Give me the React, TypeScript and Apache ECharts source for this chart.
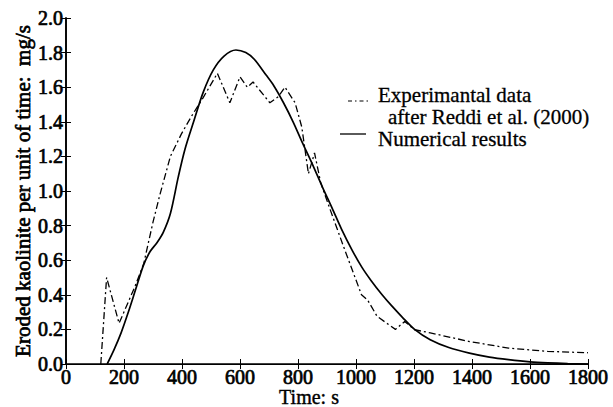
import React, { useEffect, useRef } from "react";
import * as echarts from "echarts";

const xTicks = [0, 200, 400, 600, 800, 1000, 1200, 1400, 1600, 1800];
const yTicks = [0, 0.2, 0.4, 0.6, 0.8, 1.0, 1.2, 1.4, 1.6, 1.8, 2.0];

const experimentalData: [number, number][] = [
  [120, 0], [140, 0.5], [183, 0.235], [237, 0.445], [268, 0.58], [300, 0.82],
  [324, 0.98], [360, 1.2], [398, 1.33], [432, 1.43], [473, 1.54], [522, 1.68],
  [565, 1.51], [600, 1.66], [625, 1.6], [645, 1.63], [703, 1.51], [732, 1.545],
  [755, 1.6], [790, 1.51], [813, 1.37], [836, 1.1], [857, 1.22], [878, 1.05],
  [905, 0.92], [959, 0.67], [1019, 0.4], [1040, 0.37], [1073, 0.275], [1136, 0.2],
  [1168, 0.246], [1202, 0.198], [1256, 0.18], [1391, 0.13], [1526, 0.092],
  [1661, 0.073], [1800, 0.065],
];

const numericalData: [number, number][] = [
  [142, 0], [165, 0.08], [190, 0.18], [215, 0.3], [240, 0.43], [267, 0.57],
  [290, 0.65], [313, 0.7], [335, 0.76], [360, 0.87], [387, 1.08], [410, 1.24],
  [440, 1.4], [473, 1.57], [508, 1.7], [545, 1.78], [586, 1.815], [620, 1.8],
  [650, 1.76], [690, 1.67], [716, 1.61], [750, 1.51], [783, 1.4], [815, 1.28],
  [851, 1.15], [885, 1.02], [918, 0.9], [950, 0.78], [986, 0.66], [1020, 0.56],
  [1053, 0.48], [1090, 0.4], [1121, 0.34], [1160, 0.27], [1202, 0.2], [1256, 0.14],
  [1320, 0.095], [1391, 0.063], [1460, 0.04], [1526, 0.025], [1600, 0.012],
  [1661, 0.006], [1730, 0.002], [1800, 0],
];

const seriesNames = ["Experimantal data", "after Reddi et al. (2000)", "Numerical results"];

const FONT = "'Liberation Serif', 'Times New Roman', serif";

export default function App() {
  const ref = useRef<HTMLDivElement>(null);
  useEffect(() => {
    if (!ref.current) return;
    const chart = echarts.init(ref.current, undefined, { renderer: "svg" });
    const axisCommon = {
      min: 0,
      splitLine: { show: false },
    };
    const heavy = { textBorderColor: "#000", textBorderWidth: 0.7 };
    chart.setOption({
      animation: false,
      backgroundColor: "#fff",
      grid: { left: 66, right: 25, top: 18, bottom: 43, containLabel: false, outerBoundsMode: "none" },
      xAxis: [
        {
          ...axisCommon,
          type: "value",
          max: 1800,
          interval: 200,
          position: "bottom",
          axisLine: { show: true, lineStyle: { color: "#000", width: 1.6 } },
          axisTick: { show: true, inside: true, length: 5, lineStyle: { color: "#000", width: 1 } },
          axisLabel: {
            color: "#000",
            fontFamily: FONT,
            fontSize: 20,
            margin: 3,
            ...heavy,
            formatter: (v: number) => (xTicks.includes(v) ? String(v) : ""),
          },
          name: "Time: s",
          nameLocation: "middle",
          nameGap: 23,
          nameMoveOverlap: false,
          nameTextStyle: { color: "#000", fontFamily: FONT, fontSize: 20, padding: [0, 36, 0, 0], textBorderColor: "#000", textBorderWidth: 0.4 },
        },
        {
          ...axisCommon,
          type: "value",
          max: 1800,
          interval: 200,
          position: "top",
          axisLine: { show: true, lineStyle: { color: "#000", width: 1 } },
          axisTick: { show: true, inside: true, length: 5, lineStyle: { color: "#000", width: 1 } },
          axisLabel: { show: false },
        },
      ],
      yAxis: [
        {
          ...axisCommon,
          type: "value",
          max: 2.0,
          interval: 0.2,
          position: "left",
          axisLine: { show: true, lineStyle: { color: "#000", width: 1.6 } },
          axisTick: { show: true, inside: true, length: 5, lineStyle: { color: "#000", width: 1 } },
          axisLabel: {
            color: "#000",
            fontFamily: FONT,
            fontSize: 20,
            margin: 3,
            ...heavy,
            formatter: (v: number) => {
              const t = yTicks.find((y) => Math.abs(y - v) < 1e-6);
              return t === undefined ? "" : t.toFixed(1);
            },
          },
          name: "Eroded kaolinite per unit of time:  mg/s",
          nameLocation: "middle",
          nameGap: 33,
          nameMoveOverlap: false,
          nameTextStyle: { color: "#000", fontFamily: FONT, fontSize: 21, ...heavy },
        },
        {
          ...axisCommon,
          type: "value",
          max: 2.0,
          interval: 0.2,
          position: "right",
          axisLine: { show: true, lineStyle: { color: "#000", width: 1.6 } },
          axisTick: { show: true, inside: true, length: 5, lineStyle: { color: "#000", width: 1 } },
          axisLabel: { show: false },
        },
      ],
      series: [
        {
          name: seriesNames[0],
          type: "line",
          data: experimentalData,
          showSymbol: false,
          lineStyle: { color: "#000", width: 1.3, type: [7, 3, 2, 3] },
          silent: true,
          z: 2,
        },
        {
          name: seriesNames[2],
          type: "line",
          data: numericalData,
          showSymbol: false,
          smooth: 0.3,
          lineStyle: { color: "#000", width: 1.7 },
          silent: true,
          z: 3,
        },
      ],
      graphic: [
        {
          type: "line",
          shape: { x1: 348, y1: 101, x2: 369, y2: 101 },
          style: { stroke: "#000", lineWidth: 1.2, lineDash: [4, 3, 1.5, 3] },
        },
        {
          type: "line",
          shape: { x1: 340, y1: 134, x2: 366, y2: 134 },
          style: { stroke: "#000", lineWidth: 1.3 },
        },
        {
          type: "text",
          x: 378,
          y: 95,
          style: { text: seriesNames[0], fill: "#000", font: `21px ${FONT}`, verticalAlign: "middle", stroke: "#000", lineWidth: 0.3 },
        },
        {
          type: "text",
          x: 388,
          y: 117,
          style: { text: seriesNames[1], fill: "#000", font: `21px ${FONT}`, verticalAlign: "middle", stroke: "#000", lineWidth: 0.3 },
        },
        {
          type: "text",
          x: 378,
          y: 139,
          style: { text: seriesNames[2], fill: "#000", font: `21px ${FONT}`, verticalAlign: "middle", stroke: "#000", lineWidth: 0.3 },
        },
      ],
    });
    return () => chart.dispose();
  }, []);
  return <div ref={ref} style={{ width: 613, height: 407, position: "fixed", left: 0, top: 0 }} />;
}
